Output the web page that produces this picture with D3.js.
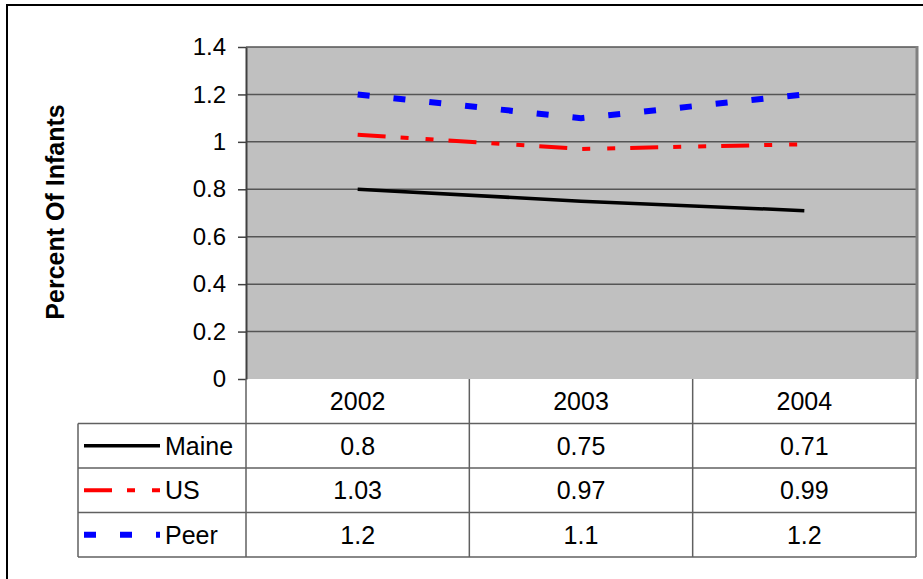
<!DOCTYPE html>
<html>
<head>
<meta charset="utf-8">
<script src="https://cdn.jsdelivr.net/npm/d3@7/dist/d3.min.js"></script>
<style>
  html, body { margin: 0; padding: 0; background: #fff; }
  svg { display: block; font-family: Arial, "Liberation Sans", sans-serif; }
</style>
</head>
<body>
<svg id="chart" width="923" height="579"></svg>
<script>
// Data
const categories = ['2002', '2003', '2004'];
const seriesNames = ['Maine', 'US', 'Peer'];
const maineValues = [0.8, 0.75, 0.71];
const usValues = [1.03, 0.97, 0.99];
const peerValues = [1.2, 1.1, 1.2];
const yTicks = [0, 0.2, 0.4, 0.6, 0.8, 1, 1.2, 1.4];
const yTitle = 'Percent Of Infants';

const series = [
  { name: seriesNames[0], values: maineValues, color: '#000000', width: 3.5, dash: null },
  { name: seriesNames[1], values: usValues, color: '#ff0000', width: 4, dash: '28,15,8,17,8,15' },
  { name: seriesNames[2], values: peerValues, color: '#0000ff', width: 6, dash: '12,24' }
];

const plot = { left: 246, right: 916, top: 47, bottom: 379 };
const tableBottom = 557;
const tableLeft = 78;
const fontSize = 25;

const svg = d3.select('#chart');

// Outer frame (runs off the right and bottom edges)
svg.append('rect')
  .attr('x', 7)
  .attr('y', 5)
  .attr('width', 930)
  .attr('height', 590)
  .attr('fill', 'none')
  .attr('stroke', '#000')
  .attr('stroke-width', 2);

const x = d3.scaleBand()
  .domain(categories)
  .range([plot.left, plot.right]);

const y = d3.scaleLinear()
  .domain([0, 1.4])
  .range([plot.bottom, plot.top]);

// Plot background
svg.append('rect')
  .attr('x', plot.left)
  .attr('y', plot.top)
  .attr('width', plot.right - plot.left)
  .attr('height', plot.bottom - plot.top)
  .attr('fill', '#c0c0c0');

// Gridlines
svg.append('g')
  .selectAll('line')
  .data(yTicks.filter(d => d > 0))
  .join('line')
  .attr('x1', plot.left)
  .attr('x2', plot.right)
  .attr('y1', d => y(d))
  .attr('y2', d => y(d))
  .attr('stroke', '#555')
  .attr('stroke-width', 1.5);

// Plot border on the right
svg.append('line')
  .attr('x1', plot.right + 1)
  .attr('x2', plot.right + 1)
  .attr('y1', plot.top - 1)
  .attr('y2', plot.bottom)
  .attr('stroke', '#808080')
  .attr('stroke-width', 3);

// Y axis
const yAxis = svg.append('g')
  .attr('transform', `translate(${plot.left},0)`)
  .call(d3.axisLeft(y)
    .tickValues(yTicks)
    .tickFormat(d => String(d))
    .tickSize(8)
    .tickSizeOuter(0)
    .tickPadding(12));

yAxis.select('.domain')
  .attr('stroke', '#404040')
  .attr('stroke-width', 2);
yAxis.selectAll('.tick line')
  .attr('stroke', '#404040')
  .attr('stroke-width', 1.5);
yAxis.selectAll('.tick text')
  .attr('font-size', '24px')
  .attr('font-family', 'Arial, "Liberation Sans", sans-serif')
  .attr('fill', '#000');

// Y axis title
svg.append('text')
  .attr('transform', `translate(64,${212}) rotate(-90)`)
  .attr('text-anchor', 'middle')
  .attr('font-size', '25px')
  .attr('font-weight', 'bold')
  .attr('fill', '#000')
  .text(yTitle);

// Lines
const line = d3.line()
  .x((d, i) => x(categories[i]) + x.bandwidth() / 2)
  .y(d => y(d));

series.forEach(s => {
  svg.append('path')
    .datum(s.values)
    .attr('d', line)
    .attr('fill', 'none')
    .attr('stroke', s.color)
    .attr('stroke-width', s.width)
    .attr('stroke-dasharray', s.dash)
    .attr('stroke-linecap', 'butt');
});

// Data table
const rows = d3.scaleBand()
  .domain(['header', ...seriesNames])
  .range([plot.bottom, tableBottom]);

const grid = svg.append('g')
  .attr('stroke', '#606060')
  .attr('stroke-width', 1.5);

// horizontal rules
seriesNames.forEach(name => {
  grid.append('line')
    .attr('x1', tableLeft)
    .attr('x2', plot.right)
    .attr('y1', rows(name))
    .attr('y2', rows(name));
});
grid.append('line')
  .attr('x1', tableLeft)
  .attr('x2', plot.right)
  .attr('y1', tableBottom)
  .attr('y2', tableBottom);

// vertical rules
grid.append('line')
  .attr('x1', tableLeft)
  .attr('x2', tableLeft)
  .attr('y1', rows(seriesNames[0]))
  .attr('y2', tableBottom);
categories.forEach(c => {
  grid.append('line')
    .attr('x1', x(c))
    .attr('x2', x(c))
    .attr('y1', plot.bottom)
    .attr('y2', tableBottom);
});
grid.append('line')
  .attr('x1', plot.right)
  .attr('x2', plot.right)
  .attr('y1', plot.bottom)
  .attr('y2', tableBottom);

// header cells
svg.append('g')
  .selectAll('text')
  .data(categories)
  .join('text')
  .attr('x', d => x(d) + x.bandwidth() / 2)
  .attr('y', rows('header') + rows.bandwidth() / 2)
  .attr('dy', '0.35em')
  .attr('text-anchor', 'middle')
  .attr('font-size', fontSize + 'px')
  .attr('fill', '#000')
  .text(d => d);

// series rows
series.forEach(s => {
  const cy = rows(s.name) + rows.bandwidth() / 2;

  // legend key
  svg.append('line')
    .attr('x1', 84)
    .attr('x2', 160)
    .attr('y1', cy)
    .attr('y2', cy)
    .attr('stroke', s.color)
    .attr('stroke-width', s.width)
    .attr('stroke-dasharray', s.dash);

  svg.append('text')
    .attr('x', 165)
    .attr('y', cy)
    .attr('dy', '0.35em')
    .attr('font-size', fontSize + 'px')
    .attr('fill', '#000')
    .text(s.name);

  svg.append('g')
    .selectAll('text')
    .data(s.values)
    .join('text')
    .attr('x', (d, i) => x(categories[i]) + x.bandwidth() / 2)
    .attr('y', cy)
    .attr('dy', '0.35em')
    .attr('text-anchor', 'middle')
    .attr('font-size', fontSize + 'px')
    .attr('fill', '#000')
    .text(d => String(d));
});
</script>
</body>
</html>
